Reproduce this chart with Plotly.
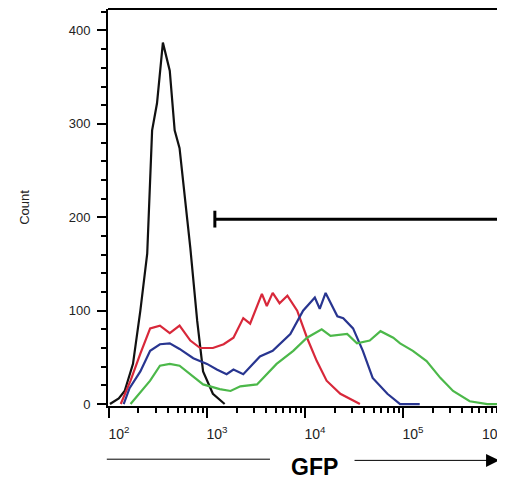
import math
import plotly.graph_objects as go

# GFP intensity given as log10 exponents, counts per bin
black_log = [2.01, 2.10, 2.16, 2.245, 2.32, 2.39, 2.44, 2.49, 2.55, 2.62, 2.67, 2.72, 2.80, 2.83, 2.90, 2.96, 3.06, 3.18]
black_cnt = [0, 6, 14, 43, 100, 161, 293, 322, 387, 357, 293, 274, 196, 167, 89, 35, 11, 0]

red_log = [2.12, 2.22, 2.32, 2.42, 2.52, 2.62, 2.72, 2.83, 2.93, 3.06, 3.17, 3.27, 3.37, 3.44, 3.56, 3.61, 3.67, 3.74,
           3.82, 3.92, 4.02, 4.12, 4.22, 4.36, 4.56]
red_cnt = [0, 25, 54, 81, 84, 76, 84, 68, 60, 60, 64, 71, 92, 86, 118, 105, 119, 108,
           116, 100, 71, 46, 25, 11, 0]

blue_log = [2.15, 2.21, 2.32, 2.42, 2.52, 2.62, 2.72, 2.86, 3.0, 3.1, 3.2, 3.27, 3.37, 3.54, 3.67, 3.85, 3.98, 4.10,
            4.15, 4.21, 4.33, 4.39, 4.49, 4.59, 4.69, 4.84, 4.97, 5.17]
blue_cnt = [0, 17, 35, 57, 64, 65, 59, 49, 43, 37, 32, 37, 32, 51, 57, 75, 100, 114,
            102, 119, 94, 92, 81, 57, 28, 11, 0, 0]

green_log = [2.22, 2.32, 2.42, 2.52, 2.62, 2.72, 2.83, 2.96, 3.13, 3.24, 3.34, 3.51, 3.71, 3.88, 4.02, 4.17, 4.26,
             4.43, 4.53, 4.66, 4.77, 4.90, 4.97, 5.10, 5.24, 5.38, 5.51, 5.68, 5.86, 6.02]
green_cnt = [0, 12, 25, 41, 43, 41, 32, 21, 16, 14, 19, 21, 43, 57, 71, 80, 73,
             75, 65, 68, 78, 71, 65, 57, 46, 28, 14, 3, 0, 0]

gate_start_log = 3.08
gate_level = 198

x_tickvals = [100, 1000, 10000, 100000, 1000000]
x_ticktext = ['10<sup>2</sup>', '10<sup>3</sup>', '10<sup>4</sup>', '10<sup>5</sup>', '10<sup>6</sup>']
y_tickvals = [0, 100, 200, 300, 400]

# minor tick positions: 2..9 within each decade, every 20 counts
x_minor = [m * 10 ** d for d in range(2, 6) for m in range(2, 10)]
y_minor = list(range(0, 421, 20))

fig = go.Figure()

for logs, cnts, color in [
    (black_log, black_cnt, '#111111'),
    (red_log, red_cnt, '#d8283a'),
    (blue_log, blue_cnt, '#283590'),
    (green_log, green_cnt, '#4cb84a'),
]:
    fig.add_trace(go.Scatter(
        x=[10 ** v for v in logs],
        y=cnts,
        mode='lines',
        line=dict(color=color, width=2.2),
        showlegend=False,
        hoverinfo='skip'
    ))

# gate bar
gate_x0 = 10 ** gate_start_log
fig.add_shape(type='line', xref='x', yref='y', x0=gate_x0, x1=10 ** 6.1, y0=gate_level, y1=gate_level,
              line=dict(color='black', width=3))
fig.add_shape(type='line', xref='x', yref='y', x0=gate_x0, x1=gate_x0, y0=gate_level - 9, y1=gate_level + 9,
              line=dict(color='black', width=3))

# top frame line
fig.add_shape(type='line', xref='paper', yref='paper', x0=0, x1=1, y0=1, y1=1,
              line=dict(color='black', width=2))

# last decade label sits at the right edge, keep it inside the page
# (annotations on a log axis take the exponent)
fig.add_annotation(xref='x', yref='paper', x=math.log10(x_tickvals[-1]), y=-0.067, text=x_ticktext[-1],
                   xanchor='right', yanchor='middle', xshift=5, showarrow=False,
                   font=dict(size=14, color='#222'))

# GFP label with arrow lines below the axis
fig.add_shape(type='line', xref='paper', yref='paper', x0=-0.003, x1=0.408, y0=-0.134, y1=-0.134,
              line=dict(color='black', width=1))
fig.add_annotation(xref='paper', yref='paper', x=0.985, y=-0.137, ax=-146, ay=0,
                   axref='pixel', ayref='pixel', text='', showarrow=True,
                   arrowhead=2, arrowsize=2.6, arrowwidth=1, arrowcolor='black')
fig.add_annotation(xref='paper', yref='paper', x=0.521, y=-0.153, text='<b>GFP</b>',
                   yanchor='middle', showarrow=False,
                   font=dict(size=23, color='black', family='Arial, Liberation Sans'))

fig.update_layout(
    width=497, height=473,
    margin=dict(l=100, r=0, t=1, b=75),
    plot_bgcolor='white', paper_bgcolor='white',
    font=dict(family='Arial, Liberation Sans', color='#222'),
)

fig.update_xaxes(
    type='log', range=[1.99, 6.04],
    tickmode='array', tickvals=x_tickvals[:-1], ticktext=x_ticktext[:-1],
    ticks='outside', ticklen=10, tickwidth=2, tickcolor='black',
    minor=dict(tickmode='array', tickvals=x_minor + [x_tickvals[-1]], ticks='outside', ticklen=5,
               tickwidth=1.5, tickcolor='black', showgrid=False),
    showline=True, linecolor='black', linewidth=2,
    showgrid=False, zeroline=False, automargin=False,
    ticklabelshift=10, ticklabelstandoff=4,
    tickfont=dict(size=14, color='#222'),
)

fig.update_yaxes(
    range=[-2.1, 423],
    tickmode='array', tickvals=y_tickvals,
    ticks='outside', ticklen=9, tickwidth=2, tickcolor='black',
    minor=dict(tickmode='array', tickvals=y_minor, ticks='outside', ticklen=5,
               tickwidth=1.5, tickcolor='black', showgrid=False),
    showline=True, linecolor='black', linewidth=2,
    showgrid=False, zeroline=False, automargin=False,
    ticklabelstandoff=4,
    tickfont=dict(size=13, color='#222'),
    title=dict(text='Count', font=dict(size=13, color='#222'), standoff=36),
)

fig.write_html("out.html")
